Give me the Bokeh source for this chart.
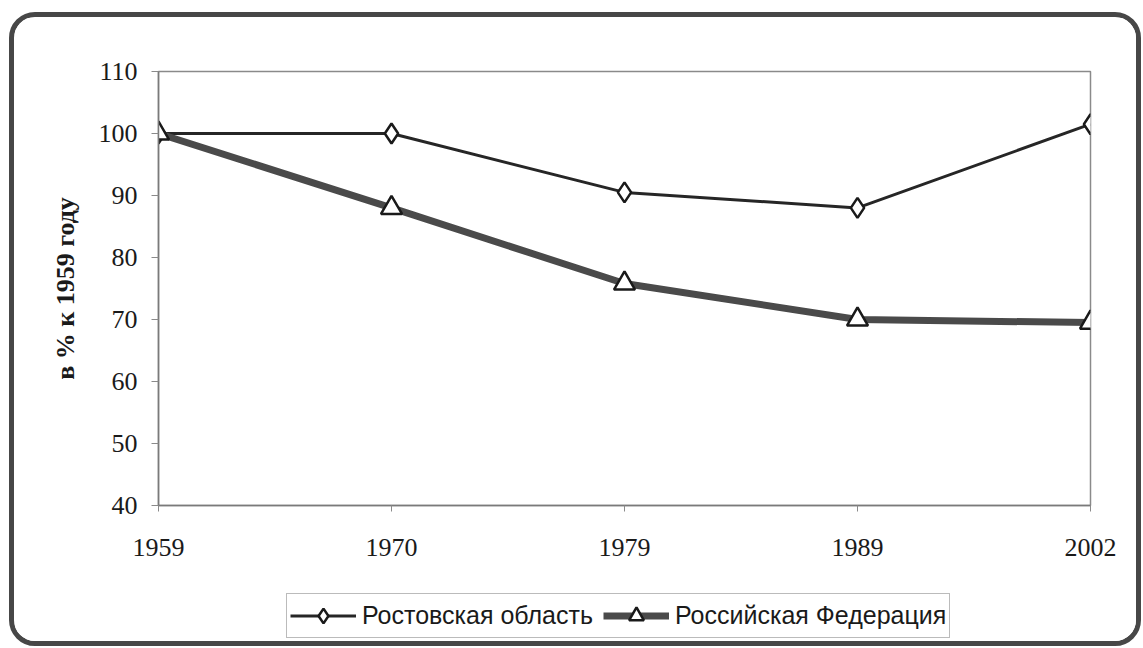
from bokeh.plotting import figure
from bokeh.layouts import column
from bokeh.models import Legend, LegendItem, FixedTicker, Range1d
from bokeh.embed import file_html
from bokeh.resources import INLINE

years = ["1959", "1970", "1979", "1989", "2002"]
rostov = [100, 100, 90.5, 88, 101.5]
russia = [100, 88, 75.8, 70, 69.5]
y_ticks = [40, 50, 60, 70, 80, 90, 100, 110]
series_names = ["Ростовская область", "Российская Федерация"]

xs = list(range(len(years)))

p = figure(width=1122, height=570, output_backend="svg", toolbar_location=None,
           x_range=Range1d(0, len(years) - 1), y_range=Range1d(40, 110),
           min_border_left=144, min_border_right=46, min_border_top=54, min_border_bottom=82)

p.background_fill_color = "white"
p.border_fill_color = "white"
p.outline_line_color = "#8a8a8a"
p.outline_line_width = 1.5
p.xgrid.visible = False
p.ygrid.visible = False

serif = "Liberation Serif"
p.xaxis.ticker = FixedTicker(ticks=xs)
p.xaxis.major_label_overrides = {i: y for i, y in enumerate(years)}
p.yaxis.ticker = FixedTicker(ticks=y_ticks)
for ax in (p.xaxis, p.yaxis):
    ax.major_label_text_font = serif
    ax.major_label_text_font_size = "26px"
    ax.major_label_text_color = "#1a1a1a"
    ax.axis_line_color = "#7a7a7a"
    ax.axis_line_width = 1.5
    ax.major_tick_line_color = "#8a8a8a"
    ax.major_tick_in = 0
    ax.minor_tick_line_color = None
p.xaxis.major_tick_out = 6
p.yaxis.major_tick_out = 7
p.xaxis.major_label_standoff = 27
p.yaxis.major_label_standoff = 14

p.yaxis.axis_label = "в % к 1959 году"
p.yaxis.axis_label_text_font = serif
p.yaxis.axis_label_text_font_size = "26px"
p.yaxis.axis_label_text_font_style = "bold"
p.yaxis.axis_label_text_color = "#1a1a1a"
p.yaxis.axis_label_standoff = 16

style1 = dict(line_color="#262626", line_width=3)
mark1 = dict(marker="diamond", size=20, fill_color="white", line_color="#1a1a1a", line_width=2.5)
style2 = dict(line_color="#4a4a4a", line_width=7)
mark2 = dict(marker="triangle", size=21, fill_color="white", line_color="#1a1a1a", line_width=2.5)

p.line(xs, rostov, **style1)
p.scatter(xs, rostov, **mark1)
p.line(xs, russia, **style2)
p.scatter(xs, russia, **mark2)

# legend strip below the chart (its renderers lie outside its visible range)
lf = figure(width=1122, height=54, output_backend="svg", toolbar_location=None,
            x_range=Range1d(-20, -10), y_range=Range1d(-20, -10), x_axis_type=None, y_axis_type=None,
            min_border_left=0, min_border_right=0, min_border_top=0, min_border_bottom=0)
lf.outline_line_color = None
lf.xgrid.visible = False
lf.ygrid.visible = False
lf.background_fill_color = "white"
lf.border_fill_color = "white"
l1 = lf.line(xs, rostov, **style1)
s1 = lf.scatter(xs, rostov, **mark1)
l2 = lf.line(xs, russia, **style2)
s2 = lf.scatter(xs, russia, **mark2)

legend = Legend(items=[LegendItem(label=series_names[0], renderers=[l1, s1]),
                       LegendItem(label=series_names[1], renderers=[l2, s2])],
                orientation="horizontal", location=(128, 3))
legend.label_text_font = "Liberation Sans"
legend.label_text_font_size = "25px"
legend.label_text_color = "#1a1a1a"
legend.glyph_width = 66
legend.glyph_height = 37
legend.label_standoff = 6
legend.spacing = 10
legend.padding = 3
legend.margin = 0
legend.border_line_color = "#777777"
legend.border_line_width = 1.2
legend.background_fill_alpha = 1
lf.add_layout(legend, "center")

layout = column(p, lf, spacing=0)
layout.styles = {"border": "5px solid #474747", "border-radius": "26px",
                 "margin-left": "9px", "margin-top": "12px", "background": "white",
                 "overflow": "hidden"}

open("out.html", "w").write(file_html(layout, INLINE))
